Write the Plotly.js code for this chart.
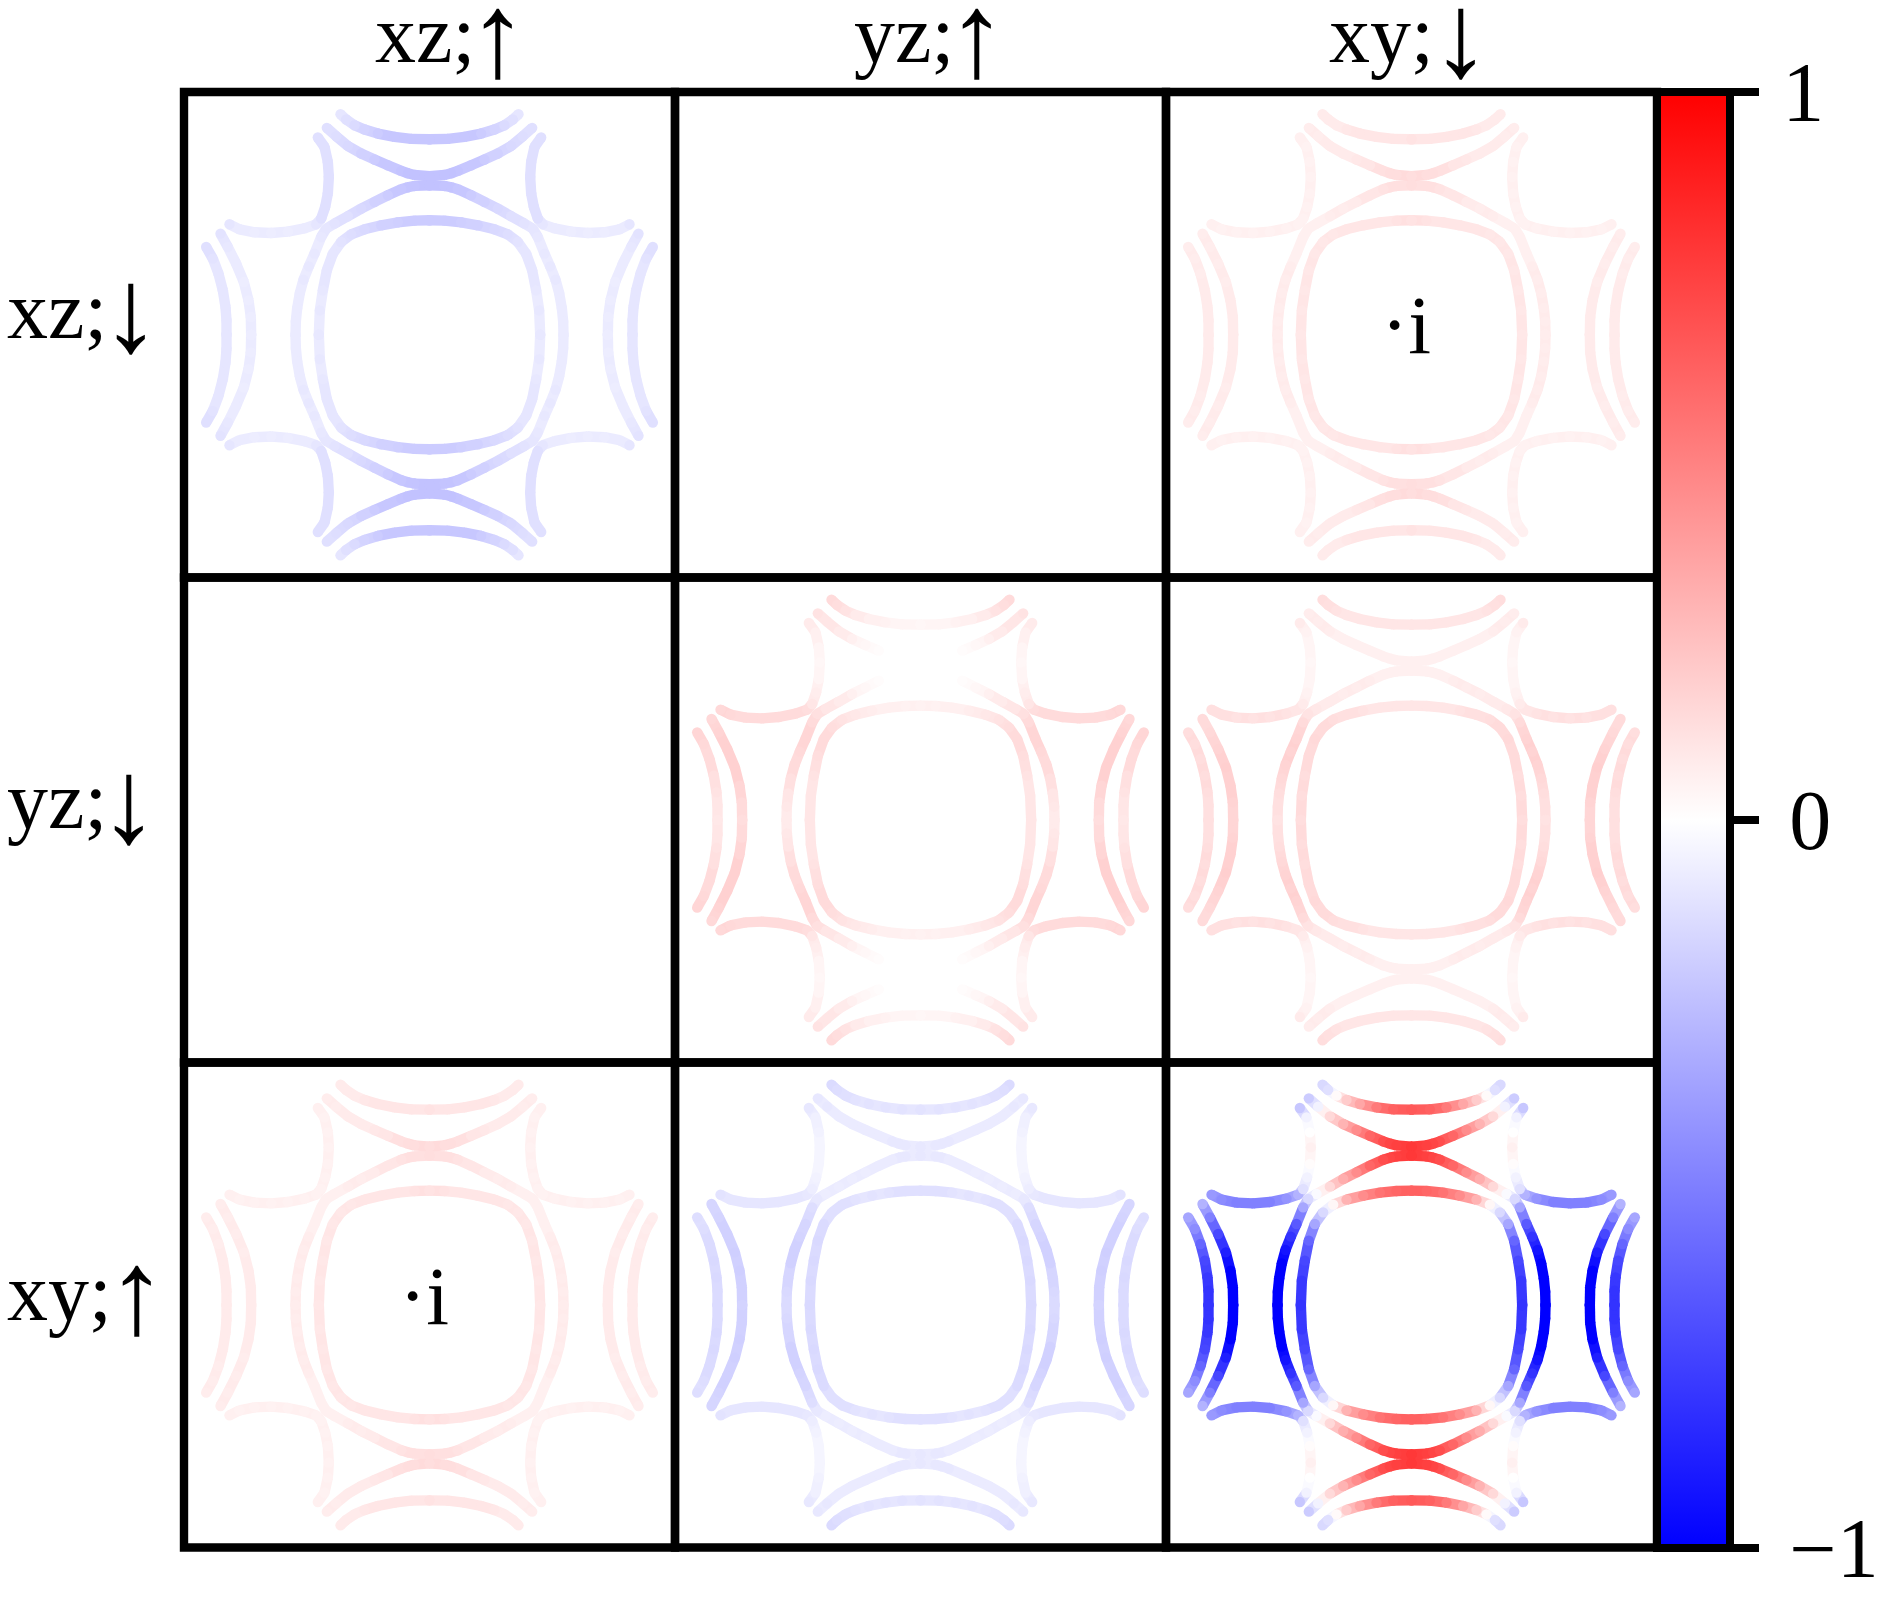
<!DOCTYPE html>
<html>
<head>
<meta charset="utf-8">
<script src="https://cdn.plot.ly/plotly-3.0.1.min.js"></script>
<style>html,body{margin:0;padding:0;background:#fff}</style>
</head>
<body>
<div id="chart" style="width:1900px;height:1598px"></div>
<script>
// one quadrant of every Fermi surface sheet, the other three are its mirror images
const aKx = [267,250,225,195,155,105,55,0];
const aKy = [661,645,628,615,603,593,587,586];
const bKx = [308,280,245,205,165,125,85,65,45,0];
const bKy = [620,595,566,543,525,508,491,484,479,475];
const cKx = [0,45,65,85,125,165,205,245,285,310,325,345,362,378,389,397,401,402];
const cKy = [448,446,442,436,418,398,378,355,333,318,293,243,205,165,125,80,40,0];
const dKx = [0,45,95,145,195,235,265,290,308,320,329,332];
const dKy = [343,342,337,328,316,301,278,243,193,133,73,0];
const eKx = [670,650,633,620,612,609,609];
const eKy = [263,228,183,133,83,43,0];
const fKx = [627,605,580,557,543,536,535];
const fKy = [303,263,213,158,103,53,0];
const gKx = [600,570,525,475,425,375,340,325,313,305,302,305,315,335];
const gKy = [331,316,307,305,309,319,331,348,383,423,473,518,563,591];

// sheet weights per panel, same order as the points above: [a, b, c, d, e, f, g]
const xzXz = [
  [-.1,-.12,-.14,-.17,-.2,-.22,-.22,-.22],
  [-.12,-.13,-.15,-.18,-.2,-.22,-.23,-.24,-.24,-.24],
  [-.24,-.23,-.23,-.22,-.2,-.18,-.15,-.12,-.11,-.1,-.09,-.09,-.09,-.09,-.08,-.08,-.08,-.08],
  [-.2,-.2,-.19,-.18,-.15,-.13,-.11,-.1,-.1,-.09,-.09,-.09],
  [-.12,-.11,-.1,-.1,-.1,-.1,-.1],
  [-.11,-.09,-.08,-.07,-.07,-.07,-.07],
  [-.1,-.08,-.07,-.07,-.07,-.08,-.1,-.12,-.12,-.12,-.12,-.12,-.12,-.12]
];
const xzXy = [
  [.08,.08,.08,.09,.1,.1,.1,.11],
  [.07,.07,.08,.08,.09,.1,.12,.13,.13,.13],
  [.13,.12,.12,.11,.1,.08,.07,.07,.06,.06,.06,.06,.07,.07,.07,.07,.07,.07],
  [.11,.11,.1,.1,.1,.09,.09,.09,.09,.09,.09,.09],
  [.07,.07,.07,.08,.08,.08,.08],
  [.07,.07,.07,.07,.08,.08,.08],
  [.06,.05,.05,.05,.05,.05,.05,.05,.05,.05,.05,.05,.05,.06]
];
const yzYz = [
  [.14,.13,.11,.08,.06,.05,.04,.03],
  [.11,.1,.08,.06,.03,.01,0,0,0,0],
  [0,0,0,0,.01,.03,.06,.08,.1,.12,.14,.16,.15,.14,.12,.1,.09,.08],
  [.05,.05,.06,.07,.09,.11,.13,.14,.13,.11,.1,.1],
  [.16,.15,.14,.12,.11,.1,.09],
  [.15,.17,.18,.18,.16,.14,.13],
  [.15,.15,.14,.14,.14,.14,.13,.1,.07,.04,.03,.04,.06,.08]
];
const yzXy = [
  [.13,.12,.11,.1,.1,.1,.1,.1],
  [.07,.07,.07,.06,.06,.06,.06,.06,.06,.06],
  [.06,.06,.06,.06,.07,.07,.07,.08,.09,.11,.14,.17,.17,.17,.15,.13,.12,.11],
  [.1,.1,.1,.11,.12,.13,.14,.15,.14,.13,.13,.13],
  [.13,.13,.13,.13,.13,.12,.12],
  [.14,.15,.17,.19,.18,.17,.16],
  [.12,.12,.11,.11,.11,.11,.1,.08,.05,.04,.03,.04,.05,.08]
];
const xyYz = [
  [-.14,-.13,-.12,-.11,-.11,-.11,-.11,-.11],
  [-.09,-.09,-.08,-.08,-.08,-.08,-.09,-.09,-.09,-.09],
  [-.09,-.09,-.09,-.08,-.08,-.07,-.07,-.07,-.07,-.09,-.13,-.16,-.17,-.18,-.18,-.16,-.15,-.14],
  [-.12,-.12,-.11,-.11,-.11,-.12,-.12,-.14,-.15,-.15,-.15,-.15],
  [-.13,-.13,-.14,-.15,-.15,-.14,-.14],
  [-.16,-.17,-.18,-.19,-.19,-.18,-.17],
  [-.11,-.1,-.1,-.1,-.1,-.1,-.09,-.07,-.05,-.04,-.04,-.05,-.06,-.09]
];
const xyXy = [
  [-.15,-.12,.02,.2,.35,.52,.62,.65],
  [-.2,-.05,.15,.3,.45,.6,.7,.73,.75,.78],
  [.78,.75,.73,.7,.6,.45,.32,.15,-.02,-.15,-.35,-.65,-.8,-.92,-1,-1,-1,-1],
  [.62,.6,.55,.45,.3,.03,-.15,-.35,-.6,-.72,-.78,-.8],
  [-.35,-.45,-.6,-.72,-.78,-.8,-.8],
  [-.3,-.5,-.72,-.88,-1,-1,-1],
  [-.4,-.45,-.5,-.5,-.5,-.42,-.3,-.12,-.05,.01,.06,0,-.05,-.22]
];

const colOrbitals = ['xz;', 'yz;', 'xy;'];
const colSpins = ['↑', '↑', '↓'];
const rowOrbitals = ['xz;', 'yz;', 'xy;'];
const rowSpins = ['↓', '↓', '↑'];
// row by row, null is an empty panel
const panels = [
  [xzXz, null, xzXy],
  [null, yzYz, yzXy],
  [xzXy, xyYz, xyXy]
];

const W = 1900, H = 1598;
const FONT = 'Liberation Serif';
const colEdges = [184, 675, 1166, 1657];
const rowEdges = [92, 577.5, 1062.5, 1547.5];
const LINE = 10.4;
const sheetsX = [aKx, bKx, cKx, dKx, eKx, fKx, gKx];
const sheetsY = [aKy, bKy, cKy, dKy, eKy, fKy, gKy];
const bwr = [[0, 'rgb(0,0,255)'], [0.5, 'rgb(255,255,255)'], [1, 'rgb(255,0,0)']];

function bwrColor(v) {
    const c = Math.round(255 * (1 - Math.abs(v)));
    return v >= 0 ? `rgb(255,${c},${c})` : `rgb(${c},${c},255)`;
}

const data = [];
const layout = {
    width: W, height: H,
    margin: { l: 0, r: 0, t: 0, b: 0, pad: 0 },
    paper_bgcolor: '#fff', plot_bgcolor: '#fff',
    showlegend: false,
    shapes: [], annotations: []
};

panels.forEach((row, r) => row.forEach((weights, c) => {
    const n = r * 3 + c + 1;
    const ax = { visible: false, fixedrange: true };
    layout['xaxis' + n] = { ...ax, domain: [colEdges[c] / W, colEdges[c + 1] / W], range: [-736.5, 736.5], anchor: 'y' + n };
    layout['yaxis' + n] = { ...ax, domain: [1 - rowEdges[r + 1] / H, 1 - rowEdges[r] / H], range: [-727.5, 727.5], anchor: 'x' + n };
    layout.shapes.push({
        type: 'rect', xref: 'paper', yref: 'paper', layer: 'above',
        x0: colEdges[c] / W, x1: colEdges[c + 1] / W,
        y0: 1 - rowEdges[r + 1] / H, y1: 1 - rowEdges[r] / H,
        line: { color: '#000', width: 8.4 }
    });
    if (!weights) return;

    // a scatter line has one colour, so segments of the same colour share a trace
    const levels = {};
    const px = [], py = [], pv = [];
    weights.forEach((vals, s) => {
        [[1, 1], [-1, 1], [1, -1], [-1, -1]].forEach(([sx, sy]) => {
            vals.forEach((v, i) => {
                const x = sx * sheetsX[s][i], y = sy * sheetsY[s][i];
                px.push(x); py.push(y); pv.push(v);
                if (i === vals.length - 1) return;
                const mid = Math.round((v + vals[i + 1]) / 2 * 50) / 50;
                const seg = levels[mid] = levels[mid] || { x: [], y: [] };
                seg.x.push(x, sx * sheetsX[s][i + 1], null);
                seg.y.push(y, sy * sheetsY[s][i + 1], null);
            });
        });
    });
    Object.keys(levels).forEach(k => data.push({
        type: 'scatter', mode: 'lines', xaxis: 'x' + n, yaxis: 'y' + n,
        x: levels[k].x, y: levels[k].y, hoverinfo: 'skip',
        line: { color: bwrColor(+k), width: LINE }
    }));
    data.push({
        type: 'scatter', mode: 'markers', xaxis: 'x' + n, yaxis: 'y' + n,
        x: px, y: py, hoverinfo: 'skip',
        marker: { size: LINE, color: pv, cmin: -1, cmax: 1, colorscale: bwr, line: { width: 0 } }
    });
}));

// colour bar hangs on the last panel
data[data.length - 1].marker.showscale = true;
data[data.length - 1].marker.colorbar = {
    x: 1657 / W, xanchor: 'left', xref: 'paper', xpad: 0,
    y: 1 - 819.75 / H, yanchor: 'middle', yref: 'paper', ypad: 0,
    len: 1455.5, lenmode: 'pixels',
    thickness: 73, thicknessmode: 'pixels',
    outlinewidth: 8, outlinecolor: '#000',
    ticks: 'outside', ticklen: 25, tickwidth: 7.5, tickcolor: '#000',
    tickmode: 'array', tickvals: [-1, 0, 1], ticktext: ['\u200a\u200a−1', '\u200a\u200a0', '\u200a1'],
    tickfont: { family: FONT, size: 84, color: '#000' }
};

function label(text, x, y, anchor, size) {
    return {
        text, xref: 'paper', yref: 'paper', x: x / W, y: 1 - y / H,
        xanchor: anchor, yanchor: 'middle', showarrow: false,
        font: { family: FONT, size, color: '#000' }
    };
}
// the spin arrows are taller than the letters and hang below the baseline, so they get their own text
[373, 852, 1327].forEach((x, i) => layout.annotations.push(label(colOrbitals[i], x, 34, 'left', 82)));
[498, 977, 1461].forEach((x, i) => layout.annotations.push(label(colSpins[i], x, 35, 'center', 120)));
[310, 800, 1292].forEach((y, i) => layout.annotations.push(label(rowOrbitals[i], 5, y, 'left', 82)));
[131, 129, 137].forEach((x, i) => layout.annotations.push(label(rowSpins[i], x, [311, 801, 1292][i], 'center', 120)));
layout.annotations.push(label('·i', 1406, 325, 'center', 82), label('·i', 424, 1296, 'center', 82));

Plotly.newPlot('chart', data, layout, { displayModeBar: false, staticPlot: true });
</script>
</body>
</html>
